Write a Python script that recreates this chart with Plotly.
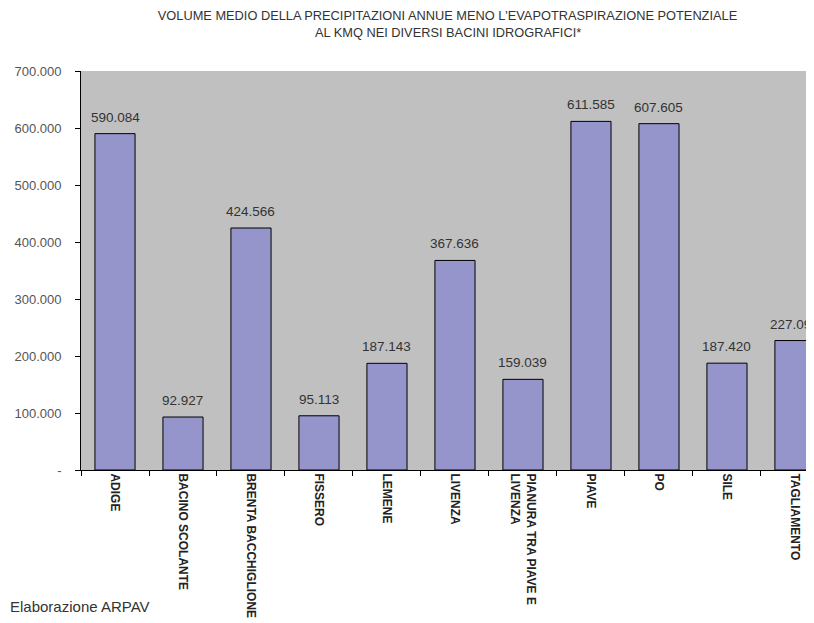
import plotly.graph_objects as go

categories = ["ADIGE", "BACINO SCOLANTE", "BRENTA BACCHIGLIONE", "FISSERO", "LEMENE",
              "LIVENZA", "PIANURA TRA PIAVE E<br>LIVENZA", "PIAVE", "PO", "SILE", "TAGLIAMENTO"]
values = [590084, 92927, 424566, 95113, 187143, 367636, 159039, 611585, 607605, 187420, 227092]
y_ticks = [0, 100000, 200000, 300000, 400000, 500000, 600000, 700000]
y_ticktext = ["-", "100.000", "200.000", "300.000", "400.000", "500.000", "600.000", "700.000"]

title_line1 = "VOLUME MEDIO DELLA PRECIPITAZIONI ANNUE MENO L'EVAPOTRASPIRAZIONE POTENZIALE"
title_line2 = "AL KMQ NEI DIVERSI BACINI IDROGRAFICI*"
source_text = "Elaborazione ARPAV"

FONT = "Liberation Sans, Arial, sans-serif"
NBSP = "\u00a0"

# page body has an 8px margin: the figure is drawn 8px in from the top-left
W, H = 806, 615

fig = go.Figure()
fig.add_trace(go.Bar(
    x=categories, y=values,
    marker=dict(color="#9595CB", line=dict(color="#000000", width=1)),
    hoverinfo="x+y",
))

annotations = []
for c, v in zip(categories, values):
    annotations.append(dict(
        x=c, y=v, xref="x", yref="y", text=f"{v:,}".replace(",", "."),
        showarrow=False, yanchor="bottom", yshift=7,
        font=dict(family=FONT, size=13.5, color="#333333"),
    ))
annotations.append(dict(
    x=-0.0996, y=-0.368, xref="paper", yref="paper", xanchor="left", yanchor="bottom",
    text=source_text, showarrow=False,
    font=dict(family=FONT, size=15, color="#333333"),
))
annotations.append(dict(
    x=0.5, y=1.0965, xref="paper", yref="paper", xanchor="center", yanchor="middle",
    text=title_line2, showarrow=False,
    font=dict(family=FONT, size=12.8, color="#333333"),
))

fig.update_layout(
    width=W, height=H,
    margin=dict(l=73, r=0, t=63, b=153, autoexpand=False),
    paper_bgcolor="#FFFFFF", plot_bgcolor="#C0C0C0",
    bargap=0.41,
    showlegend=False,
    title=dict(text=title_line1, x=0.5, xref="paper", xanchor="center",
               y=1 - 8.0 / H, yref="container", yanchor="middle",
               font=dict(family=FONT, size=12.8, color="#333333")),
    font=dict(family=FONT),
    annotations=annotations,
    xaxis=dict(
        type="category", range=[-0.5, 10.28], automargin=False,
        showline=True, linecolor="#000000", linewidth=1,
        ticks="outside", tickson="boundaries", ticklen=5, tickcolor="#000000",
        tickangle=90, showgrid=False,
        tickfont=dict(family=FONT, size=12, color="#222222", weight="bold"),
    ),
    yaxis=dict(
        range=[0, 700000], tickvals=y_ticks,
        ticktext=[t + NBSP * 3 for t in y_ticktext], automargin=False,
        showline=True, linecolor="#000000", linewidth=1,
        ticks="outside", ticklen=5, tickcolor="#000000",
        showgrid=False, zeroline=False,
        tickfont=dict(family=FONT, size=13, color="#555555"),
    ),
)

fig.write_html("out.html")
